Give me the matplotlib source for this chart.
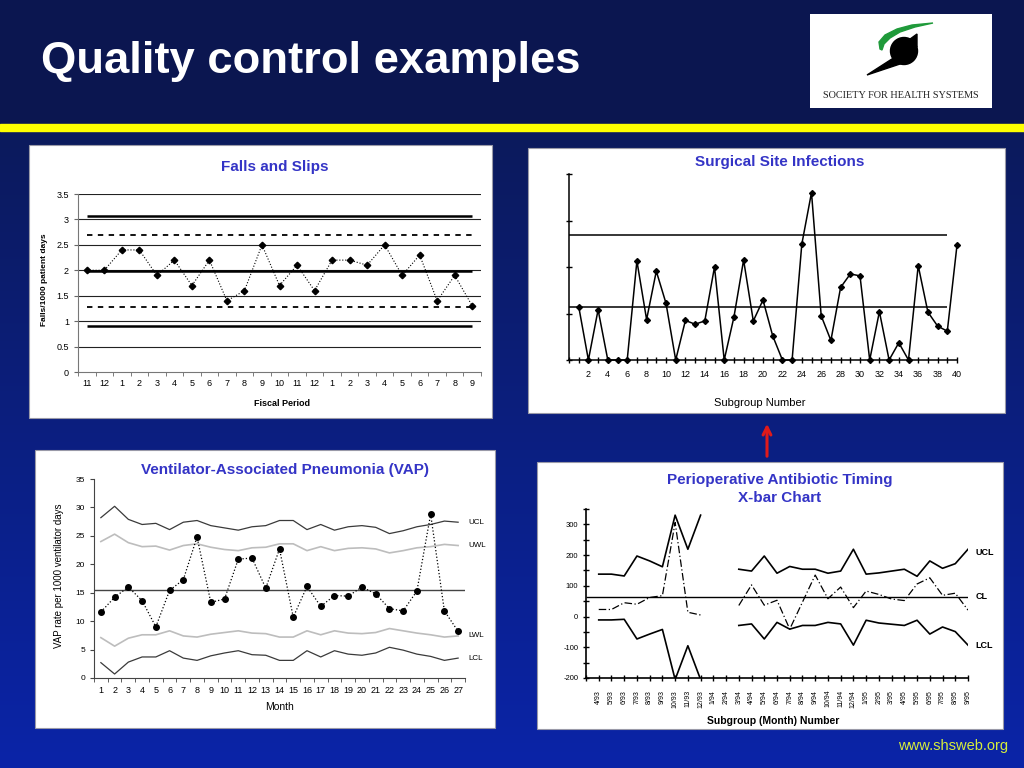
"""Slide with four quality-control charts (Falls, SSI, VAP, antibiotic timing)."""

import matplotlib
matplotlib.use("Agg")
import matplotlib.pyplot as plt
import numpy as np
from matplotlib.patches import Rectangle, Polygon, Circle
from matplotlib.ticker import MultipleLocator

plt.rcParams['font.family'] = ['Liberation Sans', 'DejaVu Sans']
plt.rcParams['axes.unicode_minus'] = False

W, H = 1024, 768
TITLE_BLUE = '#3434c6'

# ---- Falls and Slips -------------------------------------------------------
falls_periods = ['11', '12', '1', '2', '3', '4', '5', '6', '7', '8', '9', '10',
                 '11', '12', '1', '2', '3', '4', '5', '6', '7', '8', '9']
falls_rate = [2.0, 2.0, 2.4, 2.4, 1.9, 2.2, 1.7, 2.2, 1.4, 1.6, 2.5, 1.7,
              2.1, 1.6, 2.2, 2.2, 2.1, 2.5, 1.9, 2.3, 1.4, 1.9, 1.3]
falls_ucl, falls_uwl, falls_cl, falls_lwl, falls_lcl = 3.07, 2.70, 1.98, 1.28, 0.91

# ---- Surgical Site Infections ---------------------------------------------
ssi_values = [1.15, 0, 1.08, 0, 0, 0, 2.13, 0.87, 1.91, 1.22,
              0, 0.85, 0.77, 0.84, 2.0, 0, 0.92, 2.15, 0.84, 1.29,
              0.52, 0, 0, 2.49, 3.6, 0.95, 0.42, 1.56, 1.85, 1.81,
              0, 1.04, 0, 0.37, 0, 2.03, 1.03, 0.73, 0.62, 2.47]
ssi_ucl, ssi_cl = 2.69, 1.13

# ---- VAP -------------------------------------------------------------------
vap_months = list(range(1, 28))
vap_rate = [11.6, 14.2, 16.0, 13.6, 9.0, 15.4, 17.3, 24.8, 13.3, 13.9,
            20.9, 21.1, 15.8, 22.7, 10.7, 16.1, 12.6, 14.5, 14.4, 16.0,
            14.8, 12.2, 11.8, 15.3, 28.8, 11.8, 8.2]
vap_ucl = [28.2, 30.2, 27.9, 27.0, 27.2, 26.1, 27.4, 27.7, 26.8, 26.4,
           26.0, 26.6, 26.8, 27.7, 27.7, 26.1, 27.0, 26.0, 26.6, 26.8,
           26.5, 25.4, 25.9, 26.6, 27.0, 27.6, 27.4]
vap_uwl = [24.0, 25.3, 23.8, 23.1, 23.2, 22.5, 23.3, 23.6, 23.0, 22.6,
           22.4, 22.9, 23.0, 23.6, 23.6, 22.4, 23.1, 22.4, 22.8, 22.9,
           22.7, 22.0, 22.4, 22.9, 23.1, 23.5, 23.3]
vap_lwl = [7.1, 5.6, 7.0, 7.6, 7.6, 8.3, 7.4, 7.2, 7.7, 8.0,
           8.3, 7.9, 7.8, 7.2, 7.2, 8.3, 7.6, 8.3, 7.9, 7.8,
           8.0, 8.7, 8.3, 7.9, 7.6, 7.2, 7.4]
vap_lcl = [2.7, 0.7, 2.8, 3.7, 3.7, 4.8, 3.5, 3.1, 3.9, 4.4,
           4.8, 4.1, 4.0, 3.1, 3.1, 4.8, 3.7, 4.8, 4.2, 4.0,
           4.4, 5.4, 4.9, 4.2, 3.8, 3.1, 3.5]
vap_cl = 15.4

# ---- Perioperative antibiotic timing (X-bar) ------------------------------
abx_months = ['4/93', '5/93', '6/93', '7/93', '8/93', '9/93', '10/93', '11/93',
              '12/93', '1/94', '2/94', '3/94', '4/94', '5/94', '6/94', '7/94',
              '8/94', '9/94', '10/94', '11/94', '12/94', '1/95', '2/95', '3/95',
              '4/95', '5/95', '6/95', '7/95', '8/95', '9/95']
nan = np.nan
abx_mean = [23, 23, 45, 40, 62, 68, 306, 14, 5, nan, nan, 36, 103, 37, 53, -41,
            47, 135, 58, 96, 29, 83, 72, 57, 52, 106, 126, 69, 76, 21]
abx_ucl = [138, 138, 132, 197, 181, 162, 330, 219, 330, nan, nan, 154, 148, 197,
           141, 163, 154, 154, 141, 148, 219, 138, 142, 148, 154, 131, 181, 157,
           172, 219]
abx_lcl = [-11, -11, -9, -73, -57, -42, -205, -95, -205, nan, nan, -29, -24, -73,
           -19, -41, -29, -29, -19, -24, -93, -12, -21, -25, -29, -12, -57, -34,
           -49, -93]
abx_cl = 64


def px_axes(fig, left, top, right, bottom):
    """Axes placed by slide pixel coordinates (y measured from the top)."""
    return fig.add_axes([left / W, 1 - bottom / H, (right - left) / W, (bottom - top) / H])


fig = plt.figure(figsize=(W / 100, H / 100), dpi=100)

# overlay in pixel coordinates for the slide itself
ov = fig.add_axes([0, 0, 1, 1])
ov.set_xlim(0, W)
ov.set_ylim(H, 0)
ov.axis('off')

top_col = np.array([11, 22, 80]) / 255.0
low_a = np.array([12, 26, 92]) / 255.0
low_b = np.array([10, 36, 168]) / 255.0
rows = np.arange(H)
t = np.clip((rows - 131) / (H - 131), 0, 1)[:, None]
grad = np.where((rows < 131)[:, None], top_col, low_a + (low_b - low_a) * t)
ov.imshow(grad[:, None, :], extent=[0, W, H, 0], aspect='auto', zorder=0)
ov.add_patch(Rectangle((0, 124), W, 7, color='#ffff00', zorder=1))

ov.text(41, 62, 'Quality control examples', color='white', fontsize=32.7,
        fontweight='bold', va='center', ha='left', zorder=2)

# logo
ov.add_patch(Rectangle((810, 14), 182, 94, facecolor='white', edgecolor='none', zorder=2))
ov.add_patch(Polygon([(880, 49), (879, 42), (885, 35), (897, 29), (912, 25), (933, 23),
                      (915, 27), (900, 32), (890, 38), (884, 44), (882, 50)],
                     closed=True, color='#1f9a3a', zorder=3))
ov.add_patch(Circle((904, 51), 13.5, color='black', zorder=3))
ov.add_patch(Polygon([(895, 57), (867, 75), (903, 63)], closed=True, color='black', zorder=3))
ov.add_patch(Polygon([(906, 42), (917, 34), (917, 47)], closed=True, color='black', zorder=3))
ov.text(901, 96, 'SOCIETY FOR HEALTH SYSTEMS', fontsize=7.4, ha='center', va='center',
        family=['Liberation Serif', 'DejaVu Serif'], color='#222222', zorder=3)

# white panels
for (l, tp, r, b) in [(29, 145, 492, 418), (528, 148, 1005, 413),
                      (35, 450, 495, 728), (537, 462, 1003, 729)]:
    ov.add_patch(Rectangle((l, tp), r - l, b - tp, facecolor='white',
                           edgecolor='#9a9aa8', lw=0.8, zorder=2))

# red arrow between the right-hand charts
ov.annotate('', xy=(767, 421), xytext=(767, 459),
            arrowprops=dict(arrowstyle='->', color='#e01a1a', lw=2.2, mutation_scale=14),
            zorder=3)

ov.text(1008, 746, 'www.shsweb.org', color='#d6ee3c', fontsize=10.5,
        ha='right', va='center', zorder=3)

# panel titles and axis labels
ov.text(275, 167, 'Falls and Slips', color=TITLE_BLUE, fontsize=11, fontweight='bold',
        ha='center', va='center', zorder=3)
ov.text(282, 403, 'Fiscal Period', fontsize=6.5, fontweight='bold', ha='center',
        va='center', zorder=3)
ov.text(44, 280, 'Falls/1000 patient days', fontsize=6, fontweight='bold', rotation=90,
        ha='center', va='center', zorder=3)

ov.text(780, 162, 'Surgical Site Infections', color=TITLE_BLUE, fontsize=11,
        fontweight='bold', ha='center', va='center', zorder=3)
ov.text(760, 403, 'Subgroup Number', fontsize=8, ha='center', va='center',
        family=['Liberation Sans Narrow', 'Liberation Sans'], zorder=3)

ov.text(285, 470, 'Ventilator-Associated Pneumonia (VAP)', color=TITLE_BLUE, fontsize=11,
        fontweight='bold', ha='center', va='center', zorder=3)
ov.text(279, 707, 'Month', fontsize=7.5, ha='center', va='center', zorder=3)
ov.text(59, 576, 'VAP rate per 1000 ventilator days', fontsize=7, rotation=90,
        ha='center', va='center', zorder=3)

ov.text(780, 489, 'Perioperative Antibiotic Timing\nX-bar Chart', color=TITLE_BLUE,
        fontsize=11, fontweight='bold', ha='center', va='center', linespacing=1.35,
        zorder=3)
ov.text(773, 721, 'Subgroup (Month) Number', fontsize=7.5, fontweight='bold',
        ha='center', va='center', zorder=3)

# ---- chart 1: Falls and Slips ---------------------------------------------
ax1 = px_axes(fig, 78, 194, 481, 372)
ax1.set_facecolor('none')
n1 = len(falls_rate)
x1 = np.arange(n1)
for v in np.arange(0.5, 3.51, 0.5):
    ax1.axhline(v, color='#222222', lw=0.8, zorder=1)
for v, ls, lw in [(falls_ucl, '-', 1.8), (falls_cl, '-', 1.8), (falls_lcl, '-', 1.8),
                  (falls_uwl, (0, (3, 3)), 1.3), (falls_lwl, (0, (3, 3)), 1.3)]:
    ax1.hlines(v, x1[0], x1[-1], colors='black', linestyles=[ls], lw=lw, zorder=2)
ax1.plot(x1, falls_rate, color='black', ls=':', lw=0.8, marker='D', ms=3.3, zorder=3)
ax1.set_xlim(-0.5, n1 - 0.8)
ax1.set_ylim(0, 3.5)
ax1.set_yticks(np.arange(0, 3.51, 0.5))
ax1.set_yticklabels(['0', '0.5', '1', '1.5', '2', '2.5', '3', '3.5'])
ax1.set_xticks(x1)
ax1.set_xticklabels(falls_periods)
ax1.set_xticks(np.arange(-0.5, n1, 1), minor=True)
ax1.tick_params(axis='x', which='major', length=0, labelsize=6.5, pad=5)
ax1.tick_params(axis='x', which='minor', length=3, color='#666666')
ax1.tick_params(axis='y', length=3, labelsize=6.5, color='#666666')
for s in ['top', 'right']:
    ax1.spines[s].set_visible(False)
for s in ['left', 'bottom']:
    ax1.spines[s].set_color('#777777')

# ---- chart 2: Surgical Site Infections ------------------------------------
ax2 = px_axes(fig, 569, 174, 957, 360)
ax2.set_facecolor('none')
n2 = len(ssi_values)
x2 = np.arange(1, n2 + 1)
ax2.hlines(ssi_ucl, 0, n2 - 1, colors='black', lw=1.1, zorder=2)
ax2.hlines(ssi_cl, 0, n2 - 1, colors='black', lw=1.1, zorder=2)
ax2.plot(x2, ssi_values, color='black', lw=1.1, marker='D', ms=3.0, zorder=3,
         clip_on=False)
ax2.set_xlim(0, n2)
ax2.set_ylim(0, 4)
ax2.set_yticks(range(5))
ax2.set_yticklabels([])
ax2.set_xticks(range(0, n2 + 1))
ax2.set_xticklabels([str(i) if (i % 2 == 0 and i > 0) else '' for i in range(0, n2 + 1)],
                    family=['Liberation Sans Narrow', 'Liberation Sans'])
ax2.tick_params(axis='both', direction='inout', length=5, width=1, labelsize=6.5, pad=5)
for s in ['top', 'right']:
    ax2.spines[s].set_visible(False)
for s in ['left', 'bottom']:
    ax2.spines[s].set_linewidth(1.1)

# ---- chart 3: VAP ---------------------------------------------------------
ax3 = px_axes(fig, 94, 479, 465, 678)
ax3.set_facecolor('none')
ax3.plot(vap_months, vap_ucl, color='#3a3a3a', lw=0.9, zorder=2)
ax3.plot(vap_months, vap_lcl, color='#3a3a3a', lw=0.9, zorder=2)
ax3.plot(vap_months, vap_uwl, color='#bdbdbd', lw=1.2, zorder=2)
ax3.plot(vap_months, vap_lwl, color='#bdbdbd', lw=1.2, zorder=2)
ax3.hlines(vap_cl, 0.5, vap_months[-1] + 0.6, colors='#444444', lw=1.0, zorder=2)
ax3.plot(vap_months, vap_rate, color='black', ls=':', lw=0.9, marker='o', ms=4,
         zorder=3)
for name, series in [('UCL', vap_ucl), ('UWL', vap_uwl), ('LWL', vap_lwl), ('LCL', vap_lcl)]:
    ax3.text(vap_months[-1] + 0.75, series[-1], name, fontsize=5.8, ha='left',
             va='center', clip_on=False)
ax3.set_xlim(0.5, vap_months[-1] + 0.5)
ax3.set_ylim(0, 35)
ax3.set_yticks(range(0, 36, 5))
ax3.set_xticks(vap_months)
ax3.set_xticks(np.arange(0.5, vap_months[-1] + 1, 1), minor=True)
ax3.tick_params(axis='x', which='major', length=0, labelsize=6.5, pad=6)
ax3.tick_params(axis='x', which='minor', length=3, color='#444444')
ax3.tick_params(axis='y', length=3, labelsize=6, color='#444444')
for s in ['top', 'right']:
    ax3.spines[s].set_visible(False)
for s in ['left', 'bottom']:
    ax3.spines[s].set_color('#444444')
    ax3.spines[s].set_linewidth(0.8)

# ---- chart 4: Antibiotic timing X-bar -------------------------------------
ax4 = px_axes(fig, 586, 509, 968, 678)
ax4.set_facecolor('none')
n4 = len(abx_months)
x4 = np.arange(1, n4 + 1)
ax4.plot(x4, abx_ucl, color='black', lw=1.2, zorder=2)
ax4.plot(x4, abx_lcl, color='black', lw=1.2, zorder=2)
ax4.hlines(abx_cl, 0, n4, colors='black', lw=1.0, zorder=2)
ax4.plot(x4, abx_mean, color='black', lw=0.9, ls=(0, (6, 2, 1, 2)), zorder=3)
for name, series in [('UCL', abx_ucl), ('CL', [abx_cl]), ('LCL', abx_lcl)]:
    ax4.text(n4 + 0.6, series[-1] - (10 if name == 'UCL' else 0), name, fontsize=6.5,
             fontweight='bold', ha='left', va='center', clip_on=False)
ax4.set_xlim(0, n4)
ax4.set_ylim(-200, 350)
ax4.set_yticks(range(-200, 301, 100))
ax4.yaxis.set_minor_locator(MultipleLocator(50))
ax4.set_xticks(range(0, n4 + 1))
ax4.set_xticklabels([''] + abx_months, rotation=90)
ax4.tick_params(axis='x', direction='inout', length=5, width=1, labelsize=5, pad=6)
ax4.tick_params(axis='y', which='both', direction='inout', length=4, width=1,
                labelsize=5.5)
for s in ['top', 'right']:
    ax4.spines[s].set_visible(False)
for s in ['left', 'bottom']:
    ax4.spines[s].set_linewidth(1.2)

fig.savefig('out.png', dpi=100)
